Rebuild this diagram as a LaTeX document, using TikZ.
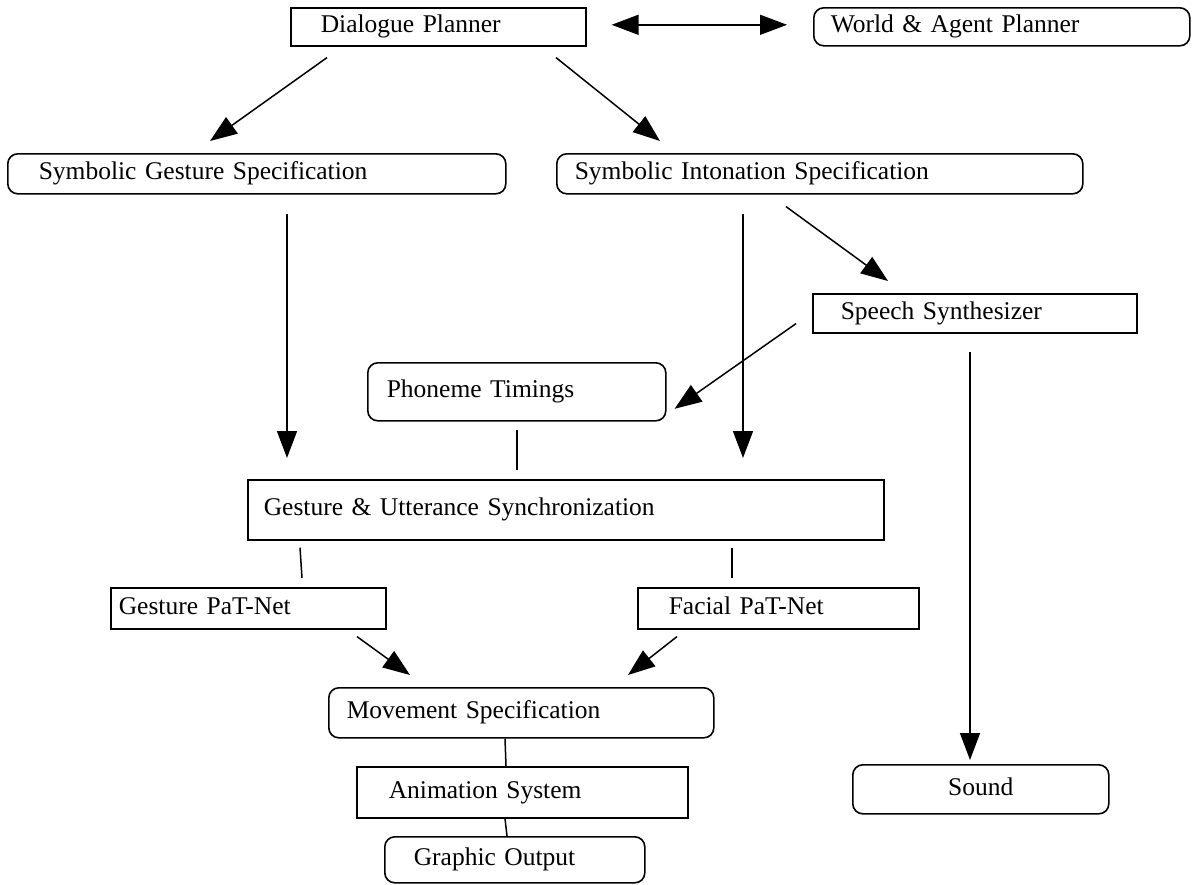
\documentclass[tikz,border=0pt]{standalone}
\usepackage{fontspec}
\setmainfont{Liberation Serif}
\usetikzlibrary{arrows.meta,calc}

\begin{document}
\begin{tikzpicture}[x=1pt,y=-1pt,
  box/.style={draw, line width=1.6pt, anchor=north west, inner sep=0pt,
    align=left, text height=17pt, text depth=5pt,
    font=\fontsize{25.5}{30}\selectfont},
  rbox/.style={box, rounded corners=10pt},
  tip/.style={Triangle[length=27pt,width=20pt]},
  arr/.style={line width=1.5pt, -{Triangle[length=27pt,width=20pt]}},
  link/.style={line width=1.5pt}]
\useasboundingbox (0,0) rectangle (1192,884);

% top row
\node[box, minimum width=295, minimum height=38, text width=295] (dp) at (290,7)
  {\hspace*{30pt}Dialogue Planner};
\node[rbox, minimum width=376, minimum height=38, text width=376] (wa) at (813,7)
  {\hspace*{17pt}World \& Agent Planner};

% symbolic specifications
\node[rbox, minimum width=498, minimum height=40, text width=498] (sg) at (7,153)
  {\hspace*{31pt}Symbolic Gesture Specification};
\node[rbox, minimum width=526, minimum height=40, text width=526] (si) at (556,153)
  {\hspace*{18pt}Symbolic Intonation Specification};

% speech path
\node[box, minimum width=324, minimum height=39, text width=324] (ss) at (812,293)
  {\hspace*{28pt}Speech Synthesizer};
\node[rbox, minimum width=298, minimum height=58, text width=298] (pt) at (367,362)
  {\hspace*{19pt}Phoneme Timings};

% synchronization
\node[box, minimum width=636, minimum height=60, text width=636] (gu) at (247,479)
  {\hspace*{16pt}Gesture \& Utterance Synchronization};
\node[box, minimum width=275, minimum height=41, text width=275] (gp) at (110,587)
  {\hspace*{8pt}Gesture PaT-Net};
\node[box, minimum width=281, minimum height=41, text width=281] (fp) at (637,587)
  {\hspace*{31pt}Facial PaT-Net};

% output chain
\node[rbox, minimum width=385, minimum height=50, text width=385] (ms) at (328,687)
  {\hspace*{18pt}Movement Specification};
\node[box, minimum width=331, minimum height=51, text width=331] (as) at (356,766)
  {\hspace*{32pt}Animation System};
\node[rbox, minimum width=260, minimum height=46, text width=260] (go) at (384,836)
  {\hspace*{29pt}Graphic Output};
\node[rbox, minimum width=256, minimum height=49, text width=256, align=center] (so) at (852,764)
  {Sound};

% connectors
\draw[line width=1.5pt, {Triangle[length=27pt,width=20pt]}-{Triangle[length=27pt,width=20pt]}]
  ($(dp.east)+(25,-2)$) -- ($(wa.west)+(-26,-2)$);
\draw[arr] ($(dp.south west)+(37,11)$) -- ($(sg.north west)+(203,-12)$);
\draw[arr] ($(dp.south west)+(266,11)$) -- ($(si.north west)+(104,-12)$);
\draw[arr] ($(sg.south west)+(280,19)$) -- ($(gu.north west)+(40,-21)$);
\draw[arr] ($(si.south west)+(187,19)$) -- ($(gu.north west)+(496,-21)$);
\draw[arr] ($(si.south west)+(230,12)$) -- ($(ss.north west)+(76,-12)$);
\draw[arr] ($(ss.south west)+(-16,-10)$) -- ($(pt.east)+(8,17)$);
\draw[arr] ($(ss.south west)+(158,18)$) -- ($(so.north west)+(118,-4)$);
\draw[link] ($(pt.south west)+(150,8)$) -- ($(gu.north west)+(270,-9)$);
\draw[link] ($(gu.south west)+(53,7)$) -- ($(gp.north west)+(192,-9)$);
\draw[link] ($(gu.south west)+(485,7)$) -- ($(fp.north west)+(95,-9)$);
\draw[arr] ($(gp.south west)+(247,7)$) -- ($(ms.north west)+(82,-12)$);
\draw[arr] ($(fp.south west)+(40,7)$) -- ($(ms.north west)+(300,-12)$);
\draw[link] ($(ms.south west)+(177,0)$) -- ($(as.north west)+(150,0)$);
\draw[link] ($(as.south west)+(149,0)$) -- ($(go.north west)+(123,0)$);
\end{tikzpicture}
\end{document}
